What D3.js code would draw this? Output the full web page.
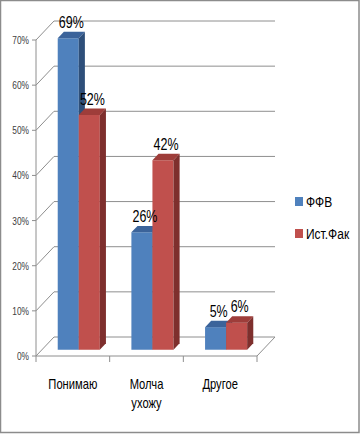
<!DOCTYPE html>
<html>
<head>
<meta charset="utf-8">
<script src="https://cdn.jsdelivr.net/npm/d3@7"></script>
<style>
  body { margin: 0; background: #fff; }
  svg text { font-family: "Liberation Sans", Arial, sans-serif; }
</style>
</head>
<body>
<div id="chart"></div>
<script>
const categories = [['Понимаю'], ['Молча', 'ухожу'], ['Другое']]
const series = ['ФФВ', 'Ист.Фак']
const ffv = [69, 26, 5]
const istfak = [52, 42, 6]
const yTicks = [0, 10, 20, 30, 40, 50, 60, 70]

const width = 361, height = 435
const depth = { x: 18, y: -19 }      // floor/wall depth in px
const barD = { from: 0.33, to: 0.67 } // bar position inside depth
const squeeze = 0.8                   // narrow text like Calibri

const colors = {
  'ФФВ': { front: '#4F81BD', top: '#3B639A', side: '#2E4F7A' },
  'Ист.Фак': { front: '#C0504D', top: '#9E3D3A', side: '#7E2F2D' }
}

const data = categories.map((c, i) => ({
  key: c.join(' '), lines: c, values: [ffv[i], istfak[i]]
}))

const svg = d3.select('#chart')
  .append('svg')
    .attr('width', width)
    .attr('height', height)

const place = (x, y, s) => `translate(${x},${y}) scale(${s || squeeze},1)`

// outer frame
svg.append('rect')
  .attr('x', 0.5).attr('y', 0.5)
  .attr('width', width - 2.5).attr('height', height - 3)
  .attr('fill', 'none')
  .attr('stroke', '#8c8c8c')
  .attr('stroke-width', 1.5)

const yScale = d3.scaleLinear()
  .domain([0, 70])
  .range([356, 40])

const x0 = d3.scaleBand()
  .domain(data.map(d => d.key))
  .range([36, 257])

const x1 = d3.scaleBand()
  .domain(series)
  .range([0, x0.bandwidth()])
  .paddingOuter(0.75)

// projection of (x, y) at relative depth t
const P = (x, y, t) => [x + depth.x * t, y + depth.y * t]
const poly = pts => 'M' + pts.map(p => p.join(',')).join('L') + 'Z'

const grid = svg.append('g').attr('class', 'grid')
  .attr('stroke', '#8e8e8e').attr('fill', 'none').attr('stroke-width', 1)

// back wall lines
grid.selectAll('line.back')
  .data(yTicks)
  .enter().append('line')
    .attr('class', 'back')
    .attr('x1', 36 + depth.x).attr('x2', 257 + depth.x)
    .attr('y1', d => yScale(d) + depth.y)
    .attr('y2', d => yScale(d) + depth.y)

// side wall diagonals
grid.selectAll('line.diag')
  .data(yTicks)
  .enter().append('line')
    .attr('class', 'diag')
    .attr('x1', 36).attr('x2', 36 + depth.x)
    .attr('y1', d => yScale(d))
    .attr('y2', d => yScale(d) + depth.y)

// front axis + ticks
grid.append('line')
  .attr('x1', 36).attr('x2', 36)
  .attr('y1', yScale(0)).attr('y2', yScale(70))
grid.selectAll('line.ytick')
  .data(yTicks)
  .enter().append('line')
    .attr('x1', 32).attr('x2', 36)
    .attr('y1', d => yScale(d)).attr('y2', d => yScale(d))

// floor front + right edge
grid.append('line')
  .attr('x1', 36).attr('x2', 257)
  .attr('y1', yScale(0)).attr('y2', yScale(0))
grid.append('line')
  .attr('x1', 257).attr('x2', 257 + depth.x)
  .attr('y1', yScale(0)).attr('y2', yScale(0) + depth.y)

// category ticks
const catTicks = data.map(d => x0(d.key)).concat([x0.range()[1]])
grid.selectAll('line.xtick')
  .data(catTicks)
  .enter().append('line')
    .attr('x1', d => d).attr('x2', d => d)
    .attr('y1', yScale(0)).attr('y2', yScale(0) + 6)

// y labels
svg.append('g')
  .selectAll('text')
  .data(yTicks)
  .enter().append('text')
    .attr('transform', d => place(29, yScale(d) + 4, 0.76))
    .attr('text-anchor', 'end')
    .attr('font-size', 11)
    .attr('fill', '#404040')
    .text(d => d + '%')

// bars
const bars = []
data.forEach(d => {
  series.forEach((s, j) => {
    bars.push({ cat: d.key, s: s, v: d.values[j] })
  })
})

const barG = svg.append('g')
  .selectAll('g.bar')
  .data(bars)
  .enter().append('g')
    .attr('class', 'bar')

barG.each(function(d) {
  const g = d3.select(this)
  const xl = x0(d.cat) + x1(d.s)
  const xr = xl + x1.bandwidth()
  const y0 = yScale(0), yv = yScale(d.v)
  const a = barD.from, b = barD.to
  // front
  g.append('path')
    .attr('d', poly([P(xl, y0, a), P(xr, y0, a), P(xr, yv, a), P(xl, yv, a)]))
    .attr('fill', colors[d.s].front)
  // side
  g.append('path')
    .attr('d', poly([P(xr, y0, a), P(xr, y0, b), P(xr, yv, b), P(xr, yv, a)]))
    .attr('fill', colors[d.s].side)
  // top
  g.append('path')
    .attr('d', poly([P(xl, yv, a), P(xr, yv, a), P(xr, yv, b), P(xl, yv, b)]))
    .attr('fill', colors[d.s].top)
})

// value labels
svg.append('g')
  .selectAll('text')
  .data(bars)
  .enter().append('text')
    .attr('transform', d => place(
      x0(d.cat) + x1(d.s) + x1.bandwidth() / 2 + depth.x * 0.5,
      yScale(d.v) + depth.y * barD.to - 4, 0.78))
    .attr('text-anchor', 'middle')
    .attr('font-size', 16)
    .attr('fill', '#000')
    .text(d => d.v + '%')

// category labels
const catG = svg.append('g')
  .selectAll('text')
  .data(data)
  .enter().append('text')
    .attr('transform', d => place(x0(d.key) + x0.bandwidth() / 2, 389))
    .attr('text-anchor', 'middle')
    .attr('font-size', 14)
    .attr('fill', '#000')

catG.selectAll('tspan')
  .data(d => d.lines)
  .enter().append('tspan')
    .attr('x', 0)
    .attr('dy', (d, i) => i === 0 ? 0 : 19)
    .text(d => d)

// legend
const legend = svg.append('g')
  .selectAll('g')
  .data(series)
  .enter().append('g')
    .attr('transform', (d, i) => `translate(295, ${197 + i * 32})`)

legend.append('rect')
  .attr('width', 8).attr('height', 9)
  .attr('fill', d => colors[d].front)

legend.append('text')
  .attr('transform', place(11, 10))
  .attr('font-size', 15)
  .attr('fill', '#000')
  .text(d => d)
</script>
</body>
</html>
